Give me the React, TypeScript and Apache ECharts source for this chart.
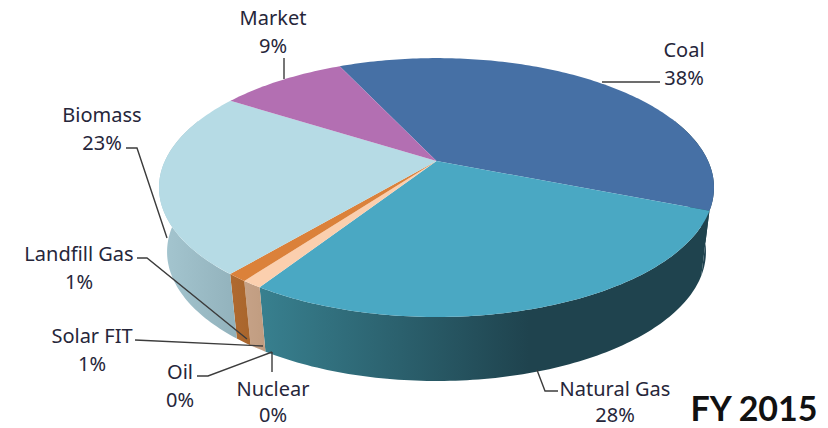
import React, { useEffect, useRef } from "react";
import * as echarts from "echarts";

// Fuel mix shares, clockwise from the Market/Coal boundary.
const categories = ["Coal", "Natural Gas", "Nuclear", "Oil", "Solar FIT", "Landfill Gas", "Biomass", "Market"];
const shares = [38, 28, 0, 0, 1, 1, 23, 9];
const chartTitle = "FY 2015";

const topColors = ["#4670A5", "#4AA8C3", "#E8C8A8", "#D8B090", "#FBCFAE", "#DB813A", "#B6DBE5", "#B36FB2"];
const wallColors: [string, string][] = [
  ["#1F4250", "#1F4250"],
  ["#38808F", "#1F434E"],
  ["#C4A185", "#C4A185"],
  ["#C4A185", "#C4A185"],
  ["#C6A287", "#C09C80"],
  ["#B06A30", "#A8652C"],
  ["#A5C6D0", "#92B2BC"],
  ["#7C4E7C", "#7C4E7C"],
];

// Perspective projection of the disc's top and bottom circles.
const START_DEG = -25;
const CX = 436.5;
const topPlane = { cy: 161, a: 271.6, b: 124, k: 0.205 };
const bottomPlane = { cy: 226, a: 264, b: 124, k: 0.2 };
const WALL_FROM = 70;
const WALL_TO = 290;

function project(plane: typeof topPlane, deg: number): number[] {
  const t = (deg * Math.PI) / 180;
  const d = 1 + plane.k * Math.cos(t);
  return [CX + (plane.a * Math.sin(t)) / d, plane.cy - (plane.b * Math.cos(t)) / d];
}

function arc(plane: typeof topPlane, from: number, to: number): number[][] {
  const steps = Math.max(2, Math.ceil(Math.abs(to - from)));
  const pts: number[][] = [];
  for (let i = 0; i <= steps; i++) pts.push(project(plane, from + ((to - from) * i) / steps));
  return pts;
}

const total = shares.reduce((s, v) => s + v, 0);
const sliceAngles = shares.map((_, i) => {
  const before = shares.slice(0, i).reduce((s, v) => s + v, 0);
  const from = START_DEG + (before / total) * 360;
  return [from, from + (shares[i] / total) * 360];
});

function renderTop(params: any) {
  const i = params.dataIndex;
  const [from, to] = sliceAngles[i];
  if (to <= from) return { type: "group", children: [] };
  return {
    type: "polygon",
    shape: { points: [[CX, topPlane.cy], ...arc(topPlane, from, to)] },
    style: { fill: topColors[i] },
  };
}

function renderWall(params: any) {
  const i = params.dataIndex;
  const from = Math.max(sliceAngles[i][0], WALL_FROM);
  const to = Math.min(sliceAngles[i][1], WALL_TO);
  if (to <= from) return { type: "group", children: [] };
  const upper = arc(topPlane, from, to);
  const lower = arc(bottomPlane, to, from);
  const xs = [...upper, ...lower].map((p) => p[0]);
  const left = Math.min(...xs);
  const right = Math.max(...xs);
  const [c0, c1] = wallColors[i];
  return {
    type: "polygon",
    shape: { points: [...upper, ...lower] },
    style: {
      fill: {
        type: "linear",
        x: left,
        y: 0,
        x2: i === 1 ? left + 269 : right,
        y2: 0,
        global: true,
        colorStops: [
          { offset: 0, color: c0 },
          { offset: 1, color: c1 },
        ],
      },
    },
  };
}

// Label blocks and their leader lines, placed by hand around the disc.
const labelSpots: Record<string, [number, number, number]> = {
  Market: [273, 31, 28],
  Coal: [684, 63, 28],
  Biomass: [102, 128, 28],
  "Landfill Gas": [79, 267, 28],
  "Solar FIT": [92, 349, 28],
  Oil: [180, 385, 28],
  Nuclear: [273, 401, 26],
  "Natural Gas": [615, 401, 26],
};
const leaderLines: number[][][] = [
  [[284, 58], [284, 79]],
  [[602, 82], [660, 82]],
  [[126, 148], [137, 148], [167, 238]],
  [[137, 258], [147, 258], [247, 339]],
  [[135, 340], [263, 346]],
  [[197, 376], [208, 376], [272, 352]],
  [[272, 352], [272, 372]],
  [[537, 370], [545, 391], [558, 391]],
];

export default function App() {
  const ref = useRef<HTMLDivElement>(null);
  useEffect(() => {
    document.body.style.margin = "0";
    const chart = echarts.init(ref.current!, undefined, { renderer: "svg" });
    chart.setOption({
      animation: false,
      backgroundColor: "#ffffff",
      series: [
        { type: "custom", name: "walls", coordinateSystem: "none", data: shares, renderItem: renderWall, silent: true, z: 1 },
        { type: "custom", name: "faces", coordinateSystem: "none", data: shares, renderItem: renderTop, silent: true, z: 2 },
      ],
      graphic: {
        elements: [
          ...leaderLines.map((points) => ({
            type: "polyline",
            z: 5,
            shape: { points },
            style: { stroke: "#3c3c3c", lineWidth: 1.4, fill: "none" },
          })),
          ...categories.map((name, i) => ({
            type: "text",
            z: 6,
            x: labelSpots[name][0],
            y: labelSpots[name][1],
            style: {
              text: `${name}\n${shares[i]}%`,
              font: "20px 'Noto Sans'",
              lineHeight: labelSpots[name][2],
              fill: "#26263a",
              align: "center",
              verticalAlign: "middle",
            },
          })),
          {
            type: "text",
            z: 6,
            x: 754,
            y: 407,
            style: {
              text: chartTitle,
              font: "bold 34px Lato",
              lineHeight: 36,
              fill: "#111111",
              align: "center",
              verticalAlign: "middle",
            },
          },
        ],
      },
    });
    return () => chart.dispose();
  }, []);
  return <div ref={ref} style={{ position: "fixed", left: 0, top: 0, width: 828, height: 428 }} />;
}
